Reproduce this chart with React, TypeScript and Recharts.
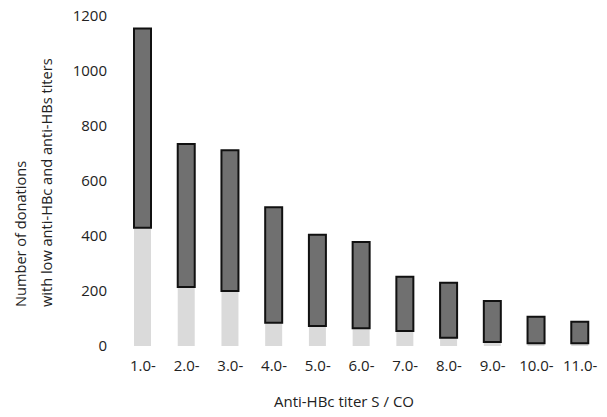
import { BarChart, Bar, XAxis, YAxis, Label } from "recharts";

// Anti-HBc titer bins (S/CO)
const categories = ["1.0-", "2.0-", "3.0-", "4.0-", "5.0-", "6.0-", "7.0-", "8.0-", "9.0-", "10.0-", "11.0-"];
// light lower segment of each stack
const lowerValues = [430, 215, 200, 85, 73, 65, 55, 30, 15, 10, 10];
// dark upper segment of each stack
const upperValues = [725, 520, 512, 420, 332, 313, 197, 200, 149, 96, 78];
const yTicks = [0, 200, 400, 600, 800, 1000, 1200];

const FONT = "'Open Sans', sans-serif";
const TEXT = "#222";
const DARK = "#707070";
const LIGHT = "#dadada";

const data = categories.map((name, i) => ({
  name,
  lower: lowerValues[i],
  upper: upperValues[i],
}));

function YTitle() {
  // two lines, rotated, both starting at the same baseline point
  const y = 307;
  return (
    <g fontFamily={FONT} fontSize={14.6} fill={TEXT}>
      <text x={20} y={y} transform={`rotate(-90 20 ${y})`} textAnchor="start" dominantBaseline="central">
        Number of donations
      </text>
      <text x={46} y={y} transform={`rotate(-90 46 ${y})`} textAnchor="start" dominantBaseline="central">
        with low anti-HBc and anti-HBs titers
      </text>
    </g>
  );
}

function XTitle() {
  return (
    <text x={344} y={407} textAnchor="middle" fontFamily={FONT} fontSize={15} fill={TEXT}>
      Anti-HBc titer S / CO
    </text>
  );
}

export default function App() {
  return (
    <div style={{ position: "absolute", left: 0, top: 0, width: 607, height: 417, background: "#fff" }}>
      <BarChart
        width={607}
        height={417}
        data={data}
        margin={{ top: 16, right: 5, left: 0, bottom: 0 }}
        barSize={17}
      >
        <XAxis
          dataKey="name"
          axisLine={false}
          tickLine={false}
          tickSize={0}
          tickMargin={14}
          height={71}
          interval={0}
          tick={{ fill: TEXT, fontSize: 15, fontFamily: FONT }}
        >
          <Label content={<XTitle />} />
        </XAxis>
        <YAxis
          domain={[0, 1200]}
          ticks={yTicks}
          axisLine={false}
          tickLine={false}
          tickSize={0}
          tickMargin={14}
          width={121}
          tick={{ fill: TEXT, fontSize: 15, fontFamily: FONT }}
        >
          <Label content={<YTitle />} />
        </YAxis>
        <Bar dataKey="lower" stackId="a" fill={LIGHT} isAnimationActive={false} />
        <Bar dataKey="upper" stackId="a" fill={DARK} stroke="#111" strokeWidth={2} isAnimationActive={false} />
      </BarChart>
    </div>
  );
}
